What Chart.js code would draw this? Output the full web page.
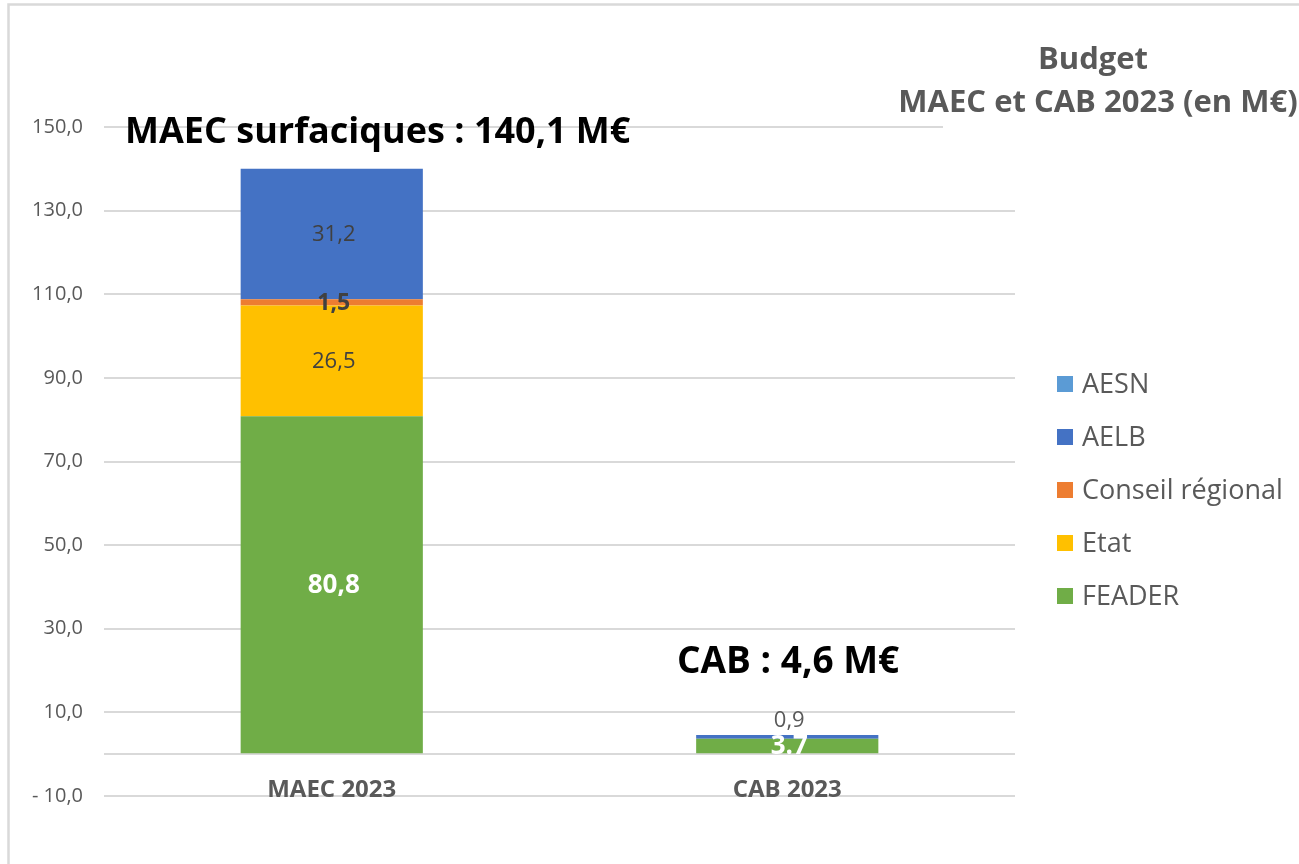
<!DOCTYPE html>
<html lang="fr">
<head>
<meta charset="utf-8">
<title>Budget MAEC et CAB 2023</title>
<script src="https://cdn.jsdelivr.net/npm/chart.js@4.4.1/dist/chart.umd.min.js"></script>
<style>
  html, body { margin: 0; padding: 0; background: #fff; overflow: hidden; }
  #wrap { position: relative; width: 1299px; height: 864px; }
</style>
</head>
<body>
<div id="wrap"><canvas id="budgetChart"></canvas></div>
<script>
// Chart data (M€)
const categories = ['MAEC 2023', 'CAB 2023'];
const feader = [80.8, 3.7];
const etat = [26.5, 0];
const conseilRegional = [1.5, 0];
const aelb = [31.2, 0.9];
const aesn = [0, 0];
const yTicks = [-10, 0, 10, 30, 50, 70, 90, 110, 130, 150];

// Texts
const titleLines = ['Budget', 'MAEC et CAB 2023 (en M€)'];
const maecTotalText = 'MAEC surfaciques : 140,1 M€';
const cabTotalText = 'CAB : 4,6 M€';
const labelOverrides = { 'FEADER|1': '3.7' };

const FONT = '"Open Sans", "DejaVu Sans", sans-serif';
const GREY = '#595959';

// Style of the value labels, per series
const labelStyles = {
    'FEADER': { font: 'bold 26px ' + FONT, color: '#ffffff' },
    'Etat': { font: '22px ' + FONT, color: '#404040' },
    'Conseil régional': { font: 'bold 23px ' + FONT, color: '#404040' },
    'AELB': { font: '22px ' + FONT, color: '#404040' },
    'AESN': { font: '22px ' + FONT, color: '#404040' }
};

// French number format, e.g. "- 10,0"
function formatNumber(v) {
    const s = Math.abs(v).toFixed(1).replace('.', ',');
    return v < 0 ? '- ' + s : s;
}

// Frame, value labels, totals, title and legend
const budgetDecor = {
    id: 'budgetDecor',
    beforeDraw(chart) {
        const ctx = chart.ctx;
        ctx.save();
        ctx.fillStyle = '#ffffff';
        ctx.fillRect(0, 0, chart.width, chart.height);
        ctx.strokeStyle = '#d9d9d9';
        ctx.lineWidth = 2.5;
        ctx.beginPath();
        ctx.moveTo(8.5, chart.height);
        ctx.lineTo(8.5, 4.5);
        ctx.lineTo(chart.width, 4.5);
        ctx.stroke();
        ctx.restore();
    },
    afterDatasetsDraw(chart) {
        const ctx = chart.ctx;
        const datasets = chart.data.datasets;
        const zeroY = chart.scales.y.getPixelForValue(0);
        ctx.save();
        ctx.beginPath();
        ctx.rect(0, 0, chart.width, zeroY);
        ctx.clip();
        ctx.textAlign = 'center';
        ctx.textBaseline = 'middle';
        datasets.forEach((ds, di) => {
            const meta = chart.getDatasetMeta(di);
            meta.data.forEach((bar, i) => {
                const v = ds.data[i];
                if (!v) return;
                const style = labelStyles[ds.label];
                const h = Math.abs(bar.base - bar.y);
                const isTop = datasets.slice(di + 1).every(d => !d.data[i]);
                let y = (bar.y + bar.base) / 2;
                let color = style.color;
                // thin top segment: label goes above the bar
                if (isTop && h < 12) {
                    y = bar.y - 15;
                    color = GREY;
                }
                ctx.font = style.font;
                ctx.fillStyle = color;
                const text = labelOverrides[ds.label + '|' + i] || formatNumber(v);
                ctx.fillText(text, bar.x + 2, y + 1);
            });
        });
        ctx.restore();
    },
    afterDraw(chart) {
        const ctx = chart.ctx;
        ctx.save();

        // Title box (covers the end of the top gridline)
        ctx.fillStyle = '#ffffff';
        ctx.fillRect(943, 30, chart.width - 943, 100);
        ctx.fillStyle = GREY;
        ctx.font = 'bold 31px ' + FONT;
        ctx.textAlign = 'center';
        ctx.textBaseline = 'middle';
        ctx.fillText(titleLines[0], 1093, 60);
        ctx.fillText(titleLines[1], 1098, 103);

        // Totals
        ctx.fillStyle = '#000000';
        ctx.textAlign = 'left';
        ctx.font = 'bold 36px ' + FONT;
        ctx.fillText(maecTotalText, 125, 133);
        ctx.font = 'bold 37px ' + FONT;
        ctx.fillText(cabTotalText, 677, 662);

        // Legend, top series first
        ctx.font = '27px ' + FONT;
        const items = chart.data.datasets.slice().reverse();
        items.forEach((ds, k) => {
            const y = 384 + k * 53;
            ctx.fillStyle = ds.backgroundColor;
            ctx.fillRect(1057, y - 8, 16, 16);
            ctx.fillStyle = GREY;
            ctx.fillText(ds.label, 1082, y + 1);
        });
        ctx.restore();
    }
};

document.addEventListener('DOMContentLoaded', function() {
    const ctx = document.getElementById('budgetChart');

    new Chart(ctx, {
        type: 'bar',
        data: {
            labels: categories,
            datasets: [
                { label: 'FEADER', data: feader, backgroundColor: '#70AD47' },
                { label: 'Etat', data: etat, backgroundColor: '#FFC000' },
                { label: 'Conseil régional', data: conseilRegional, backgroundColor: '#ED7D31' },
                { label: 'AELB', data: aelb, backgroundColor: '#4472C4' },
                { label: 'AESN', data: aesn, backgroundColor: '#5B9BD5' }
            ]
        },
        options: {
            responsive: true,
            maintainAspectRatio: false,
            animation: false,
            datasets: {
                bar: {
                    barPercentage: 0.4,
                    categoryPercentage: 1,
                    borderWidth: 0
                }
            },
            layout: {
                padding: { top: 127, bottom: 68, left: 0, right: 284 }
            },
            plugins: {
                legend: { display: false },
                tooltip: { enabled: false }
            },
            scales: {
                x: {
                    stacked: true,
                    position: { y: 0 },
                    grid: { display: false, drawTicks: false },
                    border: { display: false },
                    ticks: {
                        padding: 22,
                        color: GREY,
                        font: { family: FONT, size: 24, weight: 'bold' }
                    },
                    afterFit: function(scale) {
                        scale.height = 0;
                    }
                },
                y: {
                    stacked: true,
                    min: -10,
                    max: 150,
                    grid: { color: '#d9d9d9', lineWidth: 2, drawTicks: false },
                    border: { display: false },
                    afterBuildTicks: function(scale) {
                        scale.ticks = yTicks.map(v => ({ value: v }));
                    },
                    afterFit: function(scale) {
                        scale.width = 104;
                    },
                    ticks: {
                        padding: 21,
                        color: GREY,
                        font: { family: FONT, size: 20 },
                        callback: function(value) {
                            return value === 0 ? '' : formatNumber(value);
                        }
                    }
                }
            }
        },
        plugins: [budgetDecor]
    });
});
</script>
</body>
</html>
